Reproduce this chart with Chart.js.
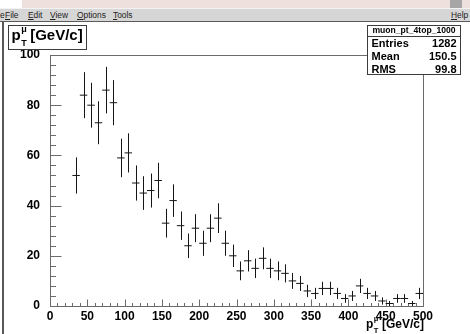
<!DOCTYPE html>
<html>
<head>
<meta charset="utf-8">
<script src="https://cdn.jsdelivr.net/npm/chart.js@4.4.1/dist/chart.umd.min.js"></script>
<style>
  html, body { margin: 0; padding: 0; background: #fff; }
  #win { position: relative; width: 470px; height: 334px; overflow: hidden; background: #fff;
         font-family: "Liberation Sans", Arial, sans-serif; }
  #band { position: absolute; left: 22px; top: 0; width: 448px; height: 8px; background: #eee0dc; }
  #grip { position: absolute; left: 450px; top: 0; width: 12px; height: 9px; background: #a6a6a6; }
  #menu { position: absolute; left: 0; top: 8px; width: 470px; height: 12px; background: #d6d6d6;
          border-top: 1px solid #f2f2f2; border-bottom: 1px solid #5a5a5a; font-size: 8.4px; color: #222; }
  #menu span { position: absolute; top: 1px; line-height: 10px; }
  #edge { position: absolute; left: 2px; top: 22px; width: 2px; height: 312px; background: #585858; }
  canvas { position: absolute; left: 0; top: 0; }
</style>
</head>
<body>
<div id="win">
  <div id="band"></div>
  <div id="grip"></div>
  <div id="menu">
    <span style="left:0px">e</span>
    <span style="left:5px"><u>F</u>ile</span>
    <span style="left:28px"><u>E</u>dit</span>
    <span style="left:50px"><u>V</u>iew</span>
    <span style="left:77px"><u>O</u>ptions</span>
    <span style="left:113px"><u>T</u>ools</span>
    <span style="left:451px"><u>H</u>elp</span>
  </div>
  <div id="edge"></div>
  <canvas id="hist" width="470" height="334"></canvas>
</div>
<script>
// muon pT histogram, 10 GeV bins, errors are sqrt(N)
const binCenters = [5, 15, 25, 35, 45, 55, 65, 75, 85, 95,
  105, 115, 125, 135, 145, 155, 165, 175, 185, 195,
  205, 215, 225, 235, 245, 255, 265, 275, 285, 295,
  305, 315, 325, 335, 345, 355, 365, 375, 385, 395,
  405, 415, 425, 435, 445, 455, 465, 475, 485, 495];
const counts = [0, 0, 0, 52, 84, 80, 73, 86, 81, 59,
  61, 49, 45, 46, 50, 33, 42, 32, 24, 31,
  25, 31, 35, 25, 20, 14, 18, 15, 19, 15,
  14, 13, 10, 9, 6, 5, 7, 7, 5, 3,
  4, 8, 5, 4, 2, 1, 3, 3, 1, 5];
const binWidth = 10;
const yTickValues = [0, 20, 40, 60, 80, 100];
const xTickValues = [0, 50, 100, 150, 200, 250, 300, 350, 400, 450, 500];
const histName = "muon_pt_4top_1000";
const statLabels = ["Entries", "Mean", "RMS"];
const statValues = ["1282", "150.5", "99.8"];

const FONT = "Liberation Sans, Arial, sans-serif";
const tickFont = { family: FONT, size: 12, weight: "bold" };

// ROOT style frame with inward major/minor ticks
const frame = {
  id: "frame",
  beforeDatasetsDraw(chart) {
    const { ctx, chartArea: a, scales: { x, y } } = chart;
    const L = Math.round(a.left) + 0.5, B = Math.round(a.bottom) + 0.5;
    ctx.save();
    ctx.strokeStyle = "#6a6a6a";
    ctx.lineWidth = 1;
    ctx.strokeRect(L, Math.round(a.top) + 0.5, Math.round(a.right) - Math.round(a.left), Math.round(a.bottom) - Math.round(a.top));
    ctx.beginPath();
    for (let k = 0; k < yTickValues.length; k++) {
      const py = Math.round(y.getPixelForValue(yTickValues[k])) + 0.5;
      ctx.moveTo(L, py); ctx.lineTo(L + 11, py);
      if (k < yTickValues.length - 1) {
        const step = (yTickValues[k + 1] - yTickValues[k]) / 5;
        for (let m = 1; m < 5; m++) {
          const pm = Math.round(y.getPixelForValue(yTickValues[k] + m * step)) + 0.5;
          ctx.moveTo(L, pm); ctx.lineTo(L + 5.5, pm);
        }
      }
    }
    for (let k = 0; k < xTickValues.length; k++) {
      const px = Math.round(x.getPixelForValue(xTickValues[k])) + 0.5;
      ctx.moveTo(px, B); ctx.lineTo(px, B - 7);
      if (k < xTickValues.length - 1) {
        const step = (xTickValues[k + 1] - xTickValues[k]) / 5;
        for (let m = 1; m < 5; m++) {
          const pm = Math.round(x.getPixelForValue(xTickValues[k] + m * step)) + 0.5;
          ctx.moveTo(pm, B); ctx.lineTo(pm, B - 3.5);
        }
      }
    }
    ctx.stroke();
    ctx.restore();
  }
};

// vertical sqrt(N) error bars
const errorBars = {
  id: "errorBars",
  afterDatasetsDraw(chart) {
    const { ctx, chartArea: a, scales: { x, y } } = chart;
    ctx.save();
    ctx.strokeStyle = "#151515";
    ctx.lineWidth = 1;
    ctx.beginPath();
    binCenters.forEach((c, i) => {
      const n = counts[i];
      if (n <= 0) return;
      const e = Math.sqrt(n);
      const px = Math.round(x.getPixelForValue(c)) + 0.5;
      ctx.moveTo(px, Math.max(y.getPixelForValue(n + e), a.top));
      ctx.lineTo(px, Math.min(y.getPixelForValue(n - e), a.bottom));
    });
    ctx.stroke();
    ctx.restore();
  }
};

function ptLabel(ctx, x0, base, big, small, rise, drop) {
  ctx.font = "bold " + big + "px " + FONT;
  ctx.textAlign = "left";
  ctx.fillText("p", x0, base);
  const w = ctx.measureText("p").width;
  ctx.font = "bold " + small + "px " + FONT;
  ctx.fillText("\u03bc", x0 + w + 0.5, base - rise);
  ctx.fillText("T", x0 + w + 0.5, base + drop);
  const ws = Math.max(ctx.measureText("\u03bc").width, ctx.measureText("T").width);
  ctx.font = "bold " + big + "px " + FONT;
  ctx.fillText("[GeV/c]", x0 + w + ws + 4, base);
}

const boxes = {
  id: "boxes",
  afterDraw(chart) {
    const { ctx } = chart;
    ctx.save();
    ctx.fillStyle = "#000";
    ctx.strokeStyle = "#3c3c3c";
    ctx.lineWidth = 1;
    ctx.textBaseline = "alphabetic";

    // title box
    ctx.fillStyle = "#fff";
    ctx.fillRect(8.5, 25.5, 78, 24);
    ctx.strokeRect(8.5, 25.5, 78, 24);
    ctx.fillStyle = "#000";
    ptLabel(ctx, 11.5, 40, 15, 9, 8, 6);

    // stats box
    ctx.fillStyle = "#fff";
    ctx.fillRect(367.5, 25.5, 93, 49);
    ctx.strokeRect(367.5, 25.5, 93, 49);
    ctx.beginPath();
    ctx.moveTo(367.5, 36.5); ctx.lineTo(460.5, 36.5);
    ctx.stroke();
    ctx.fillStyle = "#000";
    ctx.textBaseline = "middle";
    ctx.textAlign = "center";
    ctx.font = "bold 8.6px " + FONT;
    ctx.fillText(histName, 414, 31);
    ctx.font = "bold 11px " + FONT;
    const rowY = [44, 57.3, 70];
    statLabels.forEach((lab, i) => {
      ctx.textAlign = "left";
      ctx.fillText(lab, 371.5, rowY[i]);
      ctx.textAlign = "right";
      ctx.fillText(statValues[i], 456.5, rowY[i]);
    });

    // x axis title
    ctx.textBaseline = "alphabetic";
    ptLabel(ctx, 366, 328, 12, 7.5, 7, 5);
    ctx.restore();
  }
};

new Chart(document.getElementById("hist"), {
  type: "scatter",
  data: {
    datasets: [{
      data: binCenters.map((c, i) => ({ x: c, y: counts[i] })).filter(p => p.y > 0),
      pointStyle: "line",
      pointRadius: (ctx) => {
        const s = ctx.chart.scales.x;
        return (s.getPixelForValue(binWidth) - s.getPixelForValue(0)) / 2;
      },
      borderColor: "#151515",
      borderWidth: 1,
      showLine: false
    }]
  },
  options: {
    responsive: false,
    animation: false,
    events: [],
    layout: { padding: { top: 55, right: 47, bottom: 0, left: 0 } },
    plugins: { legend: { display: false }, tooltip: { enabled: false } },
    scales: {
      x: {
        type: "linear", min: 0, max: 500,
        grid: { display: false }, border: { display: false },
        afterBuildTicks: (s) => { s.ticks = xTickValues.map(v => ({ value: v })); },
        afterFit: (s) => { s.height = 28; },
        ticks: { font: tickFont, color: "#000", padding: -5, autoSkip: false, maxRotation: 0 }
      },
      y: {
        min: 0, max: 100,
        grid: { display: false }, border: { display: false },
        afterBuildTicks: (s) => { s.ticks = yTickValues.map(v => ({ value: v })); },
        afterFit: (s) => { s.width = 50; },
        ticks: { font: tickFont, color: "#000", padding: 2 }
      }
    }
  },
  plugins: [frame, errorBars, boxes]
});
</script>
</body>
</html>
